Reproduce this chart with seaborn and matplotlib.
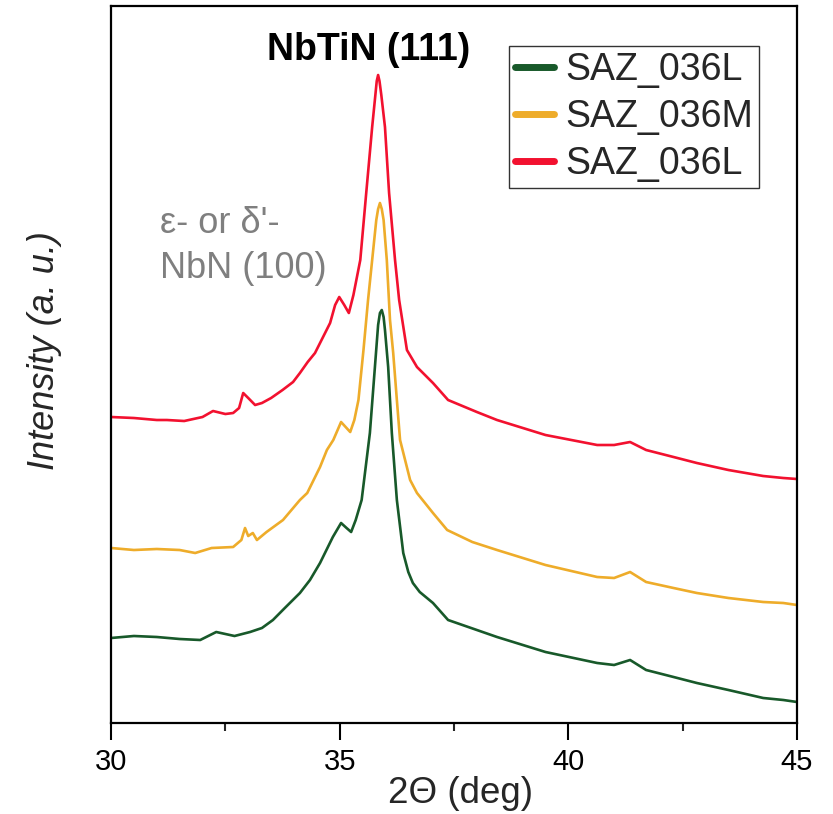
import matplotlib
matplotlib.use("Agg")
import matplotlib.pyplot as plt
import seaborn as sns
import pandas as pd
from matplotlib.ticker import MultipleLocator

# XRD scans, 2-theta (deg) vs. offset intensity (a. u.)
tt_L1 = [30.0, 30.5, 31.0, 31.5, 31.95, 32.3, 32.7, 33.04, 33.3, 33.54, 33.8, 34.13, 34.35,
         34.57, 34.85, 35.03, 35.15, 35.25, 35.35, 35.48, 35.66, 35.77, 35.84, 35.88, 35.92,
         35.96, 35.99, 36.06, 36.14, 36.25, 36.39, 36.5, 36.6, 36.75, 37.04, 37.37, 38.44,
         39.5, 40.63, 41.0, 41.35, 41.7, 42.3, 42.81, 43.5, 44.26, 44.7, 45.0]
int_L1 = [85, 87, 86, 84, 83, 91, 87, 91, 95, 103, 115, 130, 143,
          160, 186, 200, 195, 191, 203, 223, 290, 356, 398, 410, 413,
          406, 393, 356, 290, 223, 170, 151, 140, 131, 120, 103, 86,
          71, 60, 58, 63, 53, 46, 40, 33, 25, 23, 21]

tt_M = [30.0, 30.5, 31.0, 31.5, 31.84, 32.2, 32.67, 32.85, 32.93, 33.0, 33.1, 33.19, 33.4,
        33.76, 34.13, 34.29, 34.57, 34.72, 34.86, 35.03, 35.13, 35.23, 35.32, 35.41, 35.52,
        35.62, 35.71, 35.80, 35.84, 35.88, 35.92, 35.96, 36.03, 36.10, 36.17, 36.25, 36.32,
        36.54, 36.69, 37.04, 37.35, 37.9, 38.44, 39.5, 40.63, 41.0, 41.35, 41.7, 42.3, 42.81,
        43.5, 44.26, 44.7, 45.0]
int_M = [175, 173, 174, 173, 170, 175, 176, 183, 195, 187, 190, 183, 191,
         203, 223, 230, 256, 273, 283, 301, 296, 291, 303, 323, 373,
         423, 463, 503, 514, 520, 514, 503, 463, 403, 370, 323, 283,
         243, 230, 210, 193, 181, 173, 158, 146, 145, 151, 141, 135, 130,
         125, 121, 120, 118]

tt_L2 = [30.0, 30.5, 31.0, 31.22, 31.6, 32.0, 32.23, 32.5, 32.67, 32.8, 32.89, 33.0, 33.15,
         33.3, 33.5, 33.75, 33.98, 34.13, 34.3, 34.46, 34.79, 34.9, 34.99, 35.1, 35.2, 35.3,
         35.45, 35.58, 35.71, 35.78, 35.81, 35.84, 35.87, 35.91, 35.99, 36.08, 36.21, 36.3,
         36.47, 36.69, 37.04, 37.37, 38.0, 38.44, 39.5, 40.63, 41.0, 41.35, 41.7, 42.3, 42.81,
         43.5, 44.26, 44.7, 45.0]
int_L2 = [306, 305, 303, 303, 302, 306, 312, 309, 310, 315, 330, 325, 318,
          320, 325, 333, 341, 350, 361, 370, 400, 418, 426, 418, 410, 428,
          463, 530, 596, 628, 642, 648, 642, 628, 596, 530, 463, 423,
          373, 356, 340, 323, 311, 303, 288, 278, 278, 281, 273, 266, 260,
          253, 247, 245, 244]

labels = ["SAZ_036L", "SAZ_036M", "SAZ_036L"]
colors = ["#18592a", "#eeac2a", "#f2112f"]
x_ticks = [30, 35, 40, 45]

sns.set_theme(style="white")
plt.rcParams["font.family"] = ["Liberation Sans", "DejaVu Sans"]

fig = plt.figure(figsize=(8.33, 8.14), dpi=100)
ax = fig.add_axes([0.1333, 0.1118, 0.8235, 0.8808])

for tt, inten, lab, col in zip([tt_L1, tt_M, tt_L2], [int_L1, int_M, int_L2], labels, colors):
    df = pd.DataFrame({"two_theta": tt, "intensity": inten})
    sns.lineplot(data=df, x="two_theta", y="intensity", ax=ax, color=col,
                 linewidth=1.9, label=lab, estimator=None, sort=False)

ax.set_xlim(30, 45)
ax.set_ylim(0, 717)
ax.set_xticks(x_ticks)
ax.xaxis.set_minor_locator(MultipleLocator(2.5))
ax.set_yticks([])
ax.tick_params(axis="x", which="major", direction="out", length=12, width=1.5,
               labelsize=21, colors="black", pad=6, bottom=True)
ax.tick_params(axis="x", which="minor", direction="out", length=6, width=1.5, bottom=True)
for s in ax.spines.values():
    s.set_color("black")
    s.set_linewidth(1.6)

ax.set_xlabel("2\u0398 (deg)", fontsize=26.5)
ax.xaxis.set_label_coords(0.509, -0.074)
ax.set_ylabel("Intensity (a. u.)", fontsize=26, style="italic")
ax.yaxis.set_label_coords(-0.071, 0.519)

ax.text(35.64, 663, "NbTiN (111)", fontsize=27, fontweight="bold", ha="center",
        va="baseline", color="black")
ax.text(31.07, 490, "\u03b5- or \u03b4'-", fontsize=26, ha="left", va="baseline", color="#7f7f7f")
ax.text(31.07, 445, "NbN (100)", fontsize=26, ha="left", va="baseline", color="#7f7f7f")

leg = ax.legend(loc="upper right", bbox_to_anchor=(0.9446, 0.9442), fontsize=27,
                frameon=True, fancybox=False, framealpha=1, edgecolor="#333333",
                handlelength=1.05, handletextpad=0.3, labelspacing=0.3,
                borderpad=0.15, borderaxespad=0)
leg.get_frame().set_linewidth(1.0)
for h in leg.get_lines():
    h.set_linewidth(5)
    h.set_solid_capstyle("round")

fig.savefig("out.png", dpi=100)
